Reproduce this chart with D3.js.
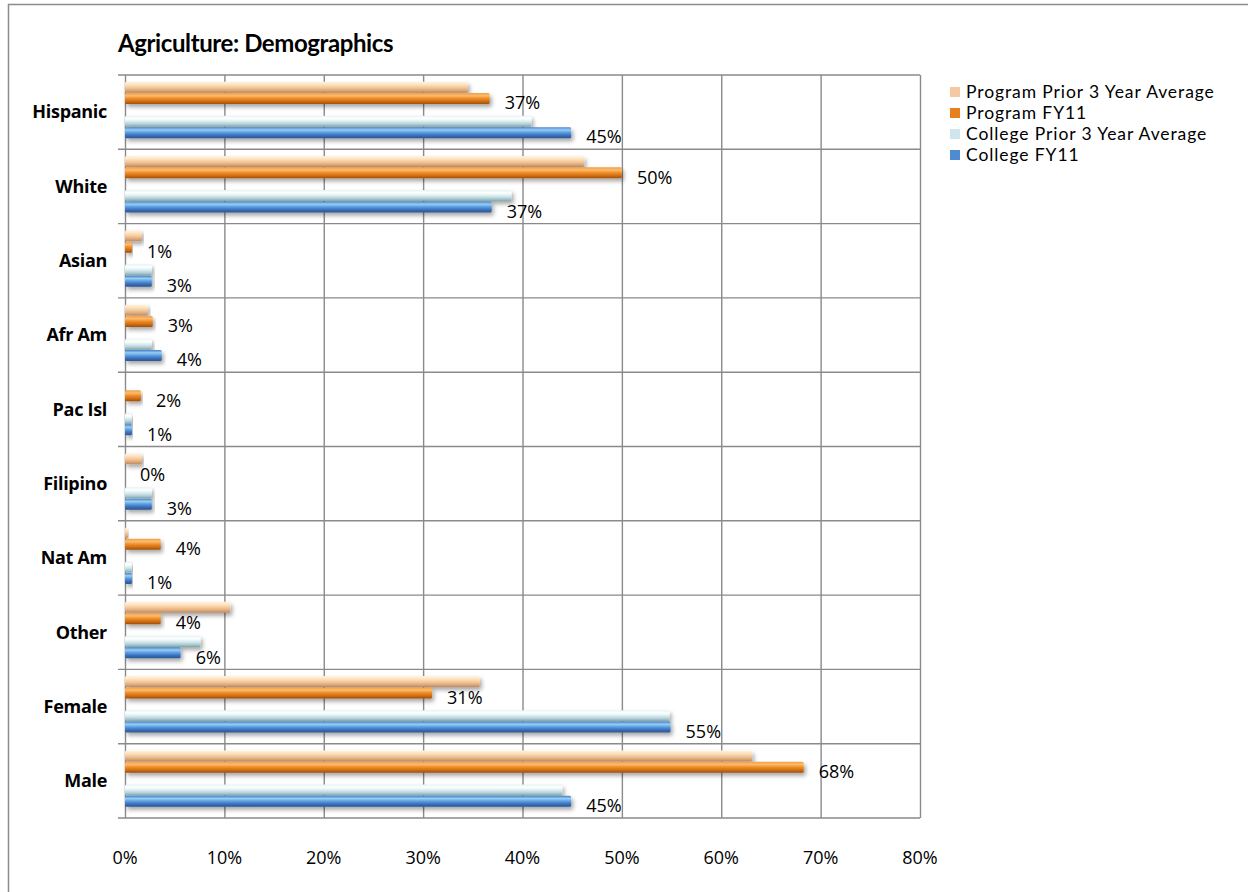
<!DOCTYPE html>
<html>
<head>
<meta charset="utf-8">
<script src="https://cdn.jsdelivr.net/npm/d3@7"></script>
<style>
  html, body { margin: 0; padding: 0; background: #fff; }
  svg { display: block; font-family: 'Open Sans', sans-serif; }
</style>
</head>
<body>
<svg id="chart"></svg>
<script>
// =============================================================================
// DATA
// =============================================================================
const categories   = ['Hispanic', 'White', 'Asian', 'Afr Am', 'Pac Isl', 'Filipino', 'Nat Am', 'Other', 'Female', 'Male'];
const seriesNames  = ['Program Prior 3 Year Average', 'Program FY11', 'College Prior 3 Year Average', 'College FY11'];
const programPrior = [0.345, 0.462, 0.017, 0.023, 0.000, 0.017, 0.003, 0.106, 0.357, 0.631];
const programFY11  = [0.367, 0.500, 0.007, 0.028, 0.016, 0.000, 0.036, 0.036, 0.309, 0.683];
const collegePrior = [0.409, 0.389, 0.027, 0.027, 0.007, 0.027, 0.007, 0.076, 0.548, 0.440];
const collegeFY11  = [0.449, 0.369, 0.027, 0.037, 0.007, 0.027, 0.007, 0.056, 0.549, 0.449];
const xTicks       = [0, 0.1, 0.2, 0.3, 0.4, 0.5, 0.6, 0.7, 0.8];

// labelled series only (the FY11 ones)
const labelled = ['Program FY11', 'College FY11'];

// gradient stops per series: top -> bottom, gives the glossy tube look
const gradients = {
    'Program Prior 3 Year Average': ['#fff4e2', '#fde4c2', '#f6cb9e', '#e2ad7e', '#b98b62'],
    'Program FY11':                 ['#f0a04c', '#fcbb6a', '#ef8b26', '#d06e16', '#9e4e0a'],
    'College Prior 3 Year Average': ['#e6f3f5', '#ffffff', '#dbeef2', '#b3d1d7', '#7fa6ae'],
    'College FY11':                 ['#4a80c4', '#94cff6', '#5b9be0', '#3a70b8', '#2a5494'],
};
const legendSwatch = {
    'Program Prior 3 Year Average': '#f2c9a0',
    'Program FY11':                 '#e8801e',
    'College Prior 3 Year Average': '#cfe6ec',
    'College FY11':                 '#4f8bd0',
};

const W = 1248, H = 892;
const plot = { left: 125, top: 75, right: 920, bottom: 818 };

// =============================================================================
// CHART
// =============================================================================
function renderChart() {
    const svg = d3.select('#chart').attr('width', W).attr('height', H);
    const defs = svg.append('defs');

    seriesNames.forEach((name, i) => {
        const lg = defs.append('linearGradient')
            .attr('id', `grad${i}`)
            .attr('x1', 0).attr('y1', 0).attr('x2', 0).attr('y2', 1);
        const stops = gradients[name];
        stops.forEach((c, j) => {
            lg.append('stop').attr('offset', `${(j / (stops.length - 1)) * 100}%`).attr('stop-color', c);
        });
    });

    defs.append('filter')
        .attr('id', 'shadow')
        .attr('x', '-5%').attr('y', '-50%').attr('width', '115%').attr('height', '220%')
        .append('feDropShadow')
        .attr('dx', 2).attr('dy', 3).attr('stdDeviation', 2)
        .attr('flood-color', '#000').attr('flood-opacity', 0.35);

    // outer chart frame (runs off the right/bottom of the image)
    svg.append('rect')
        .attr('x', 8.5).attr('y', 4.5)
        .attr('width', W + 10).attr('height', H + 10)
        .attr('fill', '#fff').attr('stroke', '#8c8c8c').attr('stroke-width', 1.5);

    // Title
    svg.append('text')
        .attr('x', 118).attr('y', 52)
        .attr('font-family', 'Lato, sans-serif')
        .attr('font-size', '24px').attr('font-weight', 'bold')
        .attr('letter-spacing', '-0.4px')
        .attr('fill', '#000')
        .text('Agriculture: Demographics');

    const x = d3.scaleLinear().domain([0, 0.8]).range([plot.left, plot.right]);
    const y = d3.scaleBand().domain(categories).range([plot.top, plot.bottom]);
    const bw = y.bandwidth();
    const slots = [seriesNames[0], seriesNames[1], 'gap', seriesNames[2], seriesNames[3]];
    const inner = d3.scaleBand().domain(slots).range([bw * 0.09, bw * 0.85]).paddingInner(0.03);

    const g = svg.append('g');

    // vertical grid lines
    g.append('g')
        .attr('transform', `translate(0,${plot.bottom})`)
        .call(d3.axisBottom(x).tickValues(xTicks).tickSize(-(plot.bottom - plot.top)).tickFormat(''))
        .call(ax => ax.select('.domain').remove())
        .call(ax => ax.selectAll('.tick line').attr('stroke', '#8a8a8a').attr('stroke-width', 1.4));

    // horizontal category separators with little ticks to the left
    const bounds = categories.map(c => y(c)).concat([plot.bottom]);
    g.selectAll('.sep')
        .data(bounds)
        .enter()
        .append('line')
        .attr('class', 'sep')
        .attr('x1', plot.left - 7).attr('x2', plot.right)
        .attr('y1', d => d).attr('y2', d => d)
        .attr('stroke', '#8a8a8a').attr('stroke-width', 1.4);

    // category labels
    g.selectAll('.cat')
        .data(categories)
        .enter()
        .append('text')
        .attr('class', 'cat')
        .attr('x', 107)
        .attr('y', d => y(d) + bw / 2)
        .attr('dy', '0.35em')
        .attr('text-anchor', 'end')
        .attr('font-size', '18px').attr('font-weight', 'bold')
        .attr('letter-spacing', '-0.3px')
        .text(d => d);

    // x axis labels (Excel drops them below the 3-D floor)
    g.selectAll('.xlab')
        .data(xTicks)
        .enter()
        .append('text')
        .attr('class', 'xlab')
        .attr('x', d => x(d))
        .attr('y', 858)
        .attr('dy', '0.35em')
        .attr('text-anchor', 'middle')
        .attr('font-size', '18px')
        .text(d3.format('.0%'));

    // bars
    const seriesValues = [programPrior, programFY11, collegePrior, collegeFY11];
    const rows = [];
    seriesNames.forEach((name, si) => {
        categories.forEach((cat, ci) => {
            rows.push({ series: name, si, cat, value: seriesValues[si][ci] });
        });
    });

    g.selectAll('.bar')
        .data(rows.filter(d => d.value > 0))
        .enter()
        .append('rect')
        .attr('class', 'bar')
        .attr('x', x(0))
        .attr('y', d => y(d.cat) + inner(d.series))
        .attr('width', d => Math.max(1.5, x(d.value) - x(0)))
        .attr('height', inner.bandwidth())
        .attr('rx', 1.5)
        .attr('fill', d => `url(#grad${d.si})`)
        .attr('filter', 'url(#shadow)');

    // value labels for the FY11 series
    g.selectAll('.val')
        .data(rows.filter(d => labelled.includes(d.series)))
        .enter()
        .append('text')
        .attr('class', 'val')
        .attr('x', d => x(d.value) + 15)
        .attr('y', d => y(d.cat) + inner(d.series) + inner.bandwidth() - 1)
        .attr('dy', '0.35em')
        .attr('font-size', '18px')
        .text(d => d3.format('.0%')(d.value));

    // Legend
    const legend = svg.append('g').attr('transform', 'translate(950,92)');
    const items = legend.selectAll('.item')
        .data(seriesNames)
        .enter()
        .append('g')
        .attr('transform', (d, i) => `translate(0,${i * 21})`);
    items.append('rect')
        .attr('x', 0).attr('y', -5).attr('width', 10).attr('height', 10)
        .attr('fill', d => legendSwatch[d]);
    items.append('text')
        .attr('x', 16).attr('y', 0).attr('dy', '0.35em')
        .attr('font-family', 'Lato, sans-serif')
        .attr('font-size', '17.5px')
        .attr('letter-spacing', '0.9px')
        .text(d => d);
}

renderChart();
</script>
</body>
</html>
